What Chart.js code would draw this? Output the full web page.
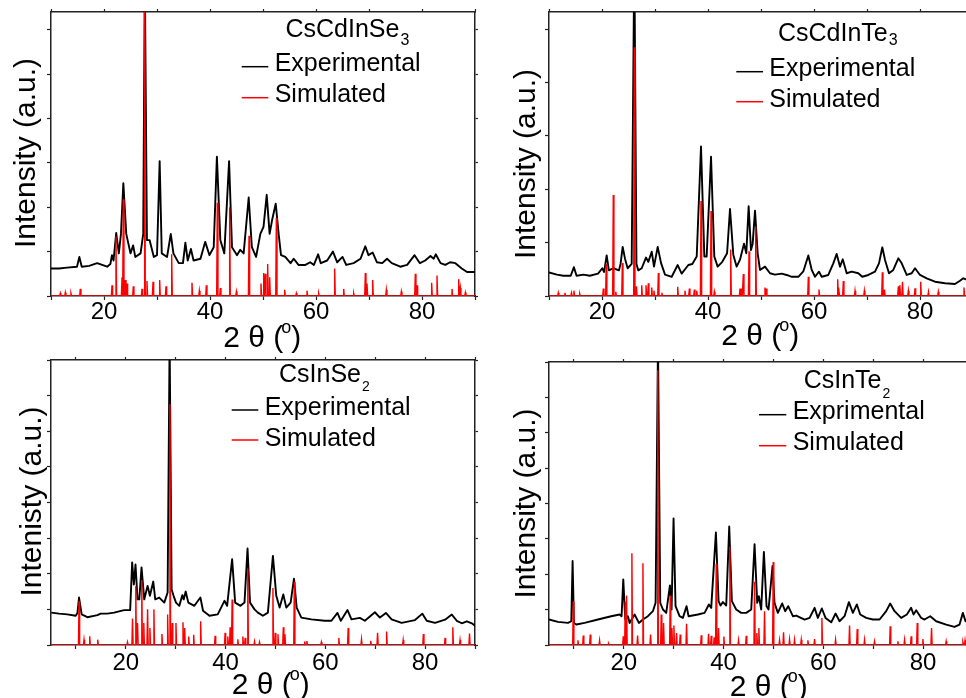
<!DOCTYPE html>
<html>
<head>
<meta charset="utf-8">
<title>XRD patterns</title>
<script src="https://cdn.jsdelivr.net/npm/chart.js@4/dist/chart.umd.min.js"></script>
<style>
  html, body { margin: 0; padding: 0; background: #fff; }
  body { width: 966px; height: 698px; position: relative; overflow: hidden; }
  canvas { position: absolute; display: block; }
</style>
</head>
<body>
<canvas id="p1" width="483" height="360" style="left:0;top:0;width:483px;height:360px"></canvas>
<canvas id="p2" width="498" height="360" style="left:483px;top:0;width:498px;height:360px"></canvas>
<canvas id="p3" width="483" height="349" style="left:0;top:349px;width:483px;height:349px"></canvas>
<canvas id="p4" width="498" height="349" style="left:483px;top:349px;width:498px;height:349px"></canvas>
<script>
// 2-theta tick positions (degrees) and intensity tick positions (a.u.)
const xTicks = [10, 20, 30, 40, 50, 60, 70, 80, 90];
const yTicks = [0, 0.5, 1, 1.5, 2, 2.5, 3, 3.5, 4];

// CsCdInSe3: measured pattern [2θ, intensity]
const cdInSe3Exp = [[10.0,0.31],[11.5,0.31],[13.0,0.32],[14.9,0.33],[15.35,0.44],[15.8,0.33],[17.2,0.34],[18.7,0.37],[20.6,0.33],[21.2,0.36],[21.5,0.46],[21.8,0.40],[22.3,0.71],[22.8,0.48],[23.2,0.70],[23.65,1.27],[24.2,0.70],[25.0,0.48],[25.5,0.57],[25.9,0.44],[26.9,0.48],[27.4,0.70],[27.7,3.6],[28.1,0.63],[28.6,0.63],[29.4,0.44],[30.0,0.46],[30.5,1.52],[30.9,0.48],[31.9,0.44],[32.6,0.70],[33.1,0.48],[34.1,0.37],[34.9,0.37],[35.35,0.60],[35.8,0.40],[36.4,0.53],[36.9,0.40],[38.2,0.42],[39.1,0.61],[39.9,0.46],[40.7,0.55],[41.3,1.57],[41.95,0.63],[42.7,0.48],[43.6,1.52],[44.15,0.55],[45.1,0.46],[45.7,0.52],[46.35,0.48],[47.3,1.11],[47.9,0.55],[48.7,0.44],[49.5,0.70],[50.1,0.78],[50.7,1.14],[51.25,0.70],[51.7,0.85],[52.4,1.04],[52.95,0.70],[53.4,0.46],[54.2,0.44],[55.2,0.37],[55.8,0.42],[56.7,0.35],[58.0,0.35],[58.9,0.38],[59.6,0.35],[60.4,0.47],[60.9,0.37],[62.1,0.40],[63.2,0.50],[64.0,0.38],[65.0,0.44],[65.7,0.35],[67.1,0.37],[68.4,0.42],[69.3,0.56],[69.9,0.46],[70.7,0.49],[71.5,0.38],[72.5,0.37],[73.4,0.42],[74.3,0.37],[75.9,0.33],[77.2,0.35],[78.6,0.46],[79.6,0.37],[80.6,0.40],[81.6,0.45],[82.2,0.42],[82.6,0.47],[83.5,0.37],[84.4,0.35],[85.3,0.38],[86.3,0.37],[87.5,0.31],[88.5,0.27],[89.7,0.27],[90.0,0.27]];
// CsCdInSe3: calculated reflections [2θ, intensity]
const cdInSe3Sim = [[11.76,0.03],[12.70,0.04],[13.77,0.03],[15.53,0.08],[21.51,0.12],[22.26,0.67],[23.40,0.21],[23.65,1.09],[24.03,0.18],[24.34,0.14],[25.53,0.11],[27.17,0.08],[27.67,3.5],[28.11,0.17],[29.25,0.16],[30.50,0.18],[31.70,0.11],[32.77,0.47],[36.60,0.15],[37.99,0.06],[39.31,0.12],[41.38,1.05],[41.95,0.09],[43.71,1.00],[44.97,0.05],[47.36,0.68],[49.62,0.14],[50.13,0.26],[50.44,0.25],[50.88,0.36],[51.26,0.21],[52.52,0.88],[54.09,0.07],[56.29,0.03],[58.30,0.06],[60.50,0.03],[63.52,0.31],[65.22,0.08],[67.11,0.03],[69.31,0.26],[69.62,0.14],[70.69,0.18],[73.27,0.07],[76.10,0.05],[78.74,0.25],[79.06,0.12],[81.82,0.15],[82.83,0.23],[85.66,0.08],[86.92,0.19],[87.23,0.09],[88.18,0.04]];

// CsCdInTe3
const cdInTe3Exp = [[10.0,0.22],[11.5,0.20],[12.7,0.19],[14.1,0.19],[14.7,0.27],[15.2,0.19],[16.5,0.20],[17.7,0.19],[19.25,0.21],[20.06,0.26],[20.4,0.225],[20.88,0.38],[21.3,0.24],[22.13,0.26],[23.2,0.24],[23.5,0.30],[23.9,0.46],[24.34,0.35],[24.84,0.26],[25.6,0.30],[26.1,3.2],[26.5,0.30],[26.85,0.24],[27.49,0.26],[28.3,0.36],[28.74,0.32],[29.38,0.415],[29.81,0.275],[30.51,0.46],[31.13,0.31],[31.89,0.20],[33.15,0.18],[34.28,0.29],[35.03,0.21],[36.29,0.29],[37.04,0.30],[37.87,0.37],[38.68,1.40],[39.31,0.37],[39.75,0.37],[40.57,1.305],[41.19,0.37],[41.82,0.275],[42.7,0.32],[43.6,0.40],[44.15,0.815],[44.78,0.385],[45.41,0.275],[46.04,0.34],[46.79,0.49],[47.23,0.40],[47.67,0.84],[48.11,0.43],[48.43,0.49],[48.87,0.80],[49.37,0.40],[49.81,0.244],[50.75,0.275],[51.7,0.213],[52.64,0.20],[53.9,0.21],[54.85,0.197],[55.8,0.18],[57.04,0.18],[57.98,0.23],[58.93,0.38],[59.57,0.244],[60.19,0.18],[60.94,0.228],[61.45,0.18],[62.7,0.197],[63.64,0.306],[64.28,0.394],[64.91,0.275],[65.42,0.344],[66.17,0.213],[67.11,0.228],[68.36,0.213],[69.11,0.18],[70.25,0.197],[71.51,0.228],[72.26,0.306],[72.89,0.456],[73.4,0.337],[74.15,0.213],[74.96,0.244],[75.91,0.353],[76.55,0.306],[77.49,0.197],[78.43,0.213],[79.06,0.26],[80.0,0.197],[81.26,0.166],[82.83,0.134],[84.72,0.119],[86.6,0.112],[87.55,0.143],[88.17,0.166],[88.68,0.156],[90.0,0.15]];
const cdInTe3Sim = [[11.75,0.03],[13.0,0.03],[14.25,0.03],[14.7,0.05],[15.8,0.02],[20.25,0.07],[20.8,0.30],[22.13,0.945],[22.6,0.04],[23.84,0.31],[26.1,2.33],[26.5,0.09],[27.49,0.10],[28.3,0.10],[28.74,0.12],[29.38,0.08],[29.8,0.05],[30.63,0.215],[31.3,0.03],[34.28,0.087],[35.66,0.05],[36.48,0.07],[37.42,0.06],[37.87,0.05],[38.68,0.89],[40.57,0.795],[41.19,0.04],[44.28,0.435],[46.04,0.07],[46.35,0.07],[46.67,0.205],[47.74,0.42],[49.0,0.65],[50.75,0.08],[51.0,0.07],[58.93,0.18],[60.94,0.06],[64.47,0.156],[64.7,0.08],[65.53,0.14],[67.74,0.05],[69.5,0.05],[72.89,0.222],[73.3,0.06],[75.91,0.09],[76.2,0.10],[76.7,0.134],[77.8,0.05],[79.06,0.072],[80.13,0.134],[81.6,0.04],[83.45,0.04],[88.3,0.08]];

// CsInSe2
const inSe2Exp = [[5.05,0.455],[6.6,0.44],[8.27,0.43],[9.95,0.41],[10.3,0.45],[10.62,0.666],[11.15,0.43],[12.29,0.39],[14.3,0.42],[14.97,0.44],[16.3,0.44],[17.65,0.455],[19.66,0.49],[20.87,0.49],[21.27,1.16],[21.61,0.85],[21.94,1.13],[22.35,0.64],[22.7,0.64],[23.15,1.09],[23.69,0.64],[24.36,0.83],[24.83,0.69],[25.5,0.89],[25.9,0.64],[26.7,0.666],[27.71,0.595],[28.38,0.736],[28.78,4.3],[29.18,0.78],[29.58,0.69],[30.05,0.595],[30.72,0.55],[31.33,0.70],[31.6,0.64],[32.0,0.75],[32.53,0.595],[33.74,0.55],[34.95,0.666],[35.48,0.48],[36.76,0.41],[38.43,0.43],[39.77,0.62],[40.31,0.55],[41.31,1.205],[41.92,0.595],[42.99,0.55],[43.79,0.595],[44.4,1.355],[44.9,0.595],[45.8,0.50],[46.47,0.455],[47.48,0.41],[48.48,0.455],[49.49,1.25],[50.16,0.69],[50.83,0.525],[51.57,0.71],[52.17,0.525],[53.04,0.595],[53.71,0.93],[54.25,0.525],[55.19,0.385],[57.2,0.36],[59.88,0.34],[61.22,0.34],[62.43,0.45],[63.1,0.34],[64.44,0.49],[65.24,0.36],[66.92,0.38],[67.92,0.34],[69.93,0.46],[70.94,0.385],[72.14,0.45],[73.28,0.36],[75.29,0.31],[77.97,0.35],[79.45,0.44],[80.32,0.34],[81.99,0.31],[84.0,0.356],[85.35,0.427],[86.35,0.34],[87.36,0.305],[88.36,0.333],[89.37,0.305],[90.0,0.27]];
const inSe2Sim = [[10.62,0.614],[11.62,0.075],[12.76,0.122],[14.37,0.075],[20.34,0.04],[21.34,0.37],[22.0,0.825],[22.35,0.31],[23.2,0.91],[23.6,0.31],[24.36,0.50],[24.83,0.24],[25.63,0.50],[27.24,0.155],[28.38,0.427],[28.85,3.38],[29.3,0.31],[30.05,0.31],[31.46,0.32],[31.8,0.24],[32.6,0.12],[33.6,0.145],[35.0,0.333],[37.9,0.13],[39.9,0.17],[40.44,0.12],[40.91,0.25],[41.31,0.64],[42.45,0.08],[43.46,0.12],[43.93,0.1],[44.45,1.07],[45.8,0.05],[46.8,0.04],[49.49,0.80],[49.96,0.17],[50.5,0.15],[51.57,0.25],[51.9,0.15],[53.78,0.886],[55.86,0.05],[56.3,0.056],[59.2,0.04],[62.7,0.1],[64.57,0.24],[67.25,0.08],[69.1,0.06],[70.47,0.17],[72.28,0.19],[75.6,0.07],[79.65,0.155],[84.0,0.1],[85.55,0.25],[87.0,0.07],[88.9,0.16]];

// CsInTe2
const inTe2Exp = [[5.0,0.36],[6.79,0.327],[8.8,0.312],[9.47,0.336],[9.73,1.188],[10.0,0.312],[10.47,0.289],[12.14,0.312],[14.81,0.36],[17.48,0.407],[19.15,0.431],[19.55,0.407],[19.89,0.928],[20.29,0.36],[20.82,0.407],[21.16,0.312],[22.16,0.431],[23.03,0.312],[23.83,0.36],[24.83,0.407],[25.83,0.478],[26.37,0.596],[26.85,4.3],[27.3,0.596],[27.84,0.502],[28.5,0.454],[29.24,0.842],[29.57,0.502],[29.97,1.789],[30.37,0.549],[31.18,0.407],[31.84,0.383],[32.58,0.549],[32.98,0.407],[34.85,0.431],[36.19,0.454],[37.05,0.573],[37.52,0.525],[38.46,1.59],[38.99,0.62],[39.39,0.558],[39.86,0.606],[40.53,0.558],[41.13,1.675],[41.66,0.62],[42.53,0.502],[43.53,0.454],[44.54,0.454],[45.54,0.502],[46.21,1.425],[46.74,0.596],[47.07,0.691],[47.54,0.502],[48.08,1.316],[48.61,0.549],[49.01,0.502],[49.81,1.117],[50.21,0.596],[50.88,0.454],[51.75,0.587],[52.35,0.478],[52.95,0.549],[53.89,0.407],[54.57,0.416],[56.24,0.36],[57.24,0.383],[58.24,0.525],[58.9,0.383],[59.7,0.516],[60.44,0.383],[61.58,0.32],[62.45,0.445],[63.25,0.336],[64.25,0.407],[65.12,0.606],[65.92,0.454],[66.72,0.573],[67.39,0.431],[68.59,0.383],[69.93,0.36],[71.27,0.36],[72.6,0.478],[73.4,0.587],[74.27,0.478],[75.6,0.383],[76.74,0.431],[77.6,0.525],[78.08,0.431],[78.61,0.49],[79.62,0.383],[80.28,0.36],[81.42,0.407],[82.62,0.336],[84.62,0.289],[86.3,0.255],[87.3,0.289],[87.97,0.454],[88.5,0.336],[90.0,0.32]];
const inTe2Sim = [[9.87,0.62],[10.8,0.066],[11.87,0.133],[13.27,0.147],[15.14,0.066],[16.95,0.02],[19.89,0.123],[20.29,0.606],[20.55,0.70],[21.62,1.297],[22.76,0.133],[23.83,1.155],[25.36,0.147],[26.8,3.885],[27.5,0.43],[27.97,0.31],[29.3,0.70],[29.64,0.24],[30.04,0.275],[30.57,0.17],[31.3,0.147],[32.58,0.30],[35.52,0.137],[36.99,0.16],[37.52,0.13],[38.12,0.11],[38.52,1.15],[38.99,0.24],[40.06,0.12],[41.26,1.39],[43.0,0.07],[44.54,0.13],[46.21,0.894],[46.67,0.17],[47.07,0.24],[48.21,0.478],[49.95,1.174],[51.22,0.07],[52.02,0.18],[53.22,0.08],[54.23,0.075],[55.57,0.075],[56.9,0.066],[58.24,0.085],[59.71,0.383],[62.45,0.075],[65.25,0.275],[66.79,0.227],[68.26,0.075],[70.26,0.052],[73.4,0.265],[74.94,0.052],[76.28,0.075],[77.6,0.123],[78.82,0.312],[79.95,0.085],[81.69,0.24],[84.62,0.052],[87.97,0.038],[88.4,0.066]];

const FONT = '"Liberation Sans", Arial, Helvetica, sans-serif';
const STICK_HALF = 0.12; // half width of a calculated reflection, degrees

const toXY = arr => arr.map(([x, y]) => ({ x, y }));

// Calculated reflections drawn as narrow sticks rising from zero
function sticks(peaks, xmin, xmax) {
  const pts = [{ x: xmin, y: 0 }];
  peaks.slice().sort((a, b) => a[0] - b[0]).forEach(([x, h]) => {
    pts.push({ x: x - STICK_HALF, y: 0 }, { x, y: h }, { x: x + STICK_HALF, y: 0 });
  });
  pts.push({ x: xmax, y: 0 });
  return pts;
}

// Axis titles and the in-plot legend
const panelText = {
  id: 'panelText',
  afterDraw(chart, args, o) {
    const ctx = chart.ctx;
    ctx.save();
    ctx.fillStyle = '#000';
    ctx.textBaseline = 'alphabetic';

    // vertical axis title
    ctx.save();
    ctx.translate(o.yTitle.x, o.yTitle.y);
    ctx.rotate(-Math.PI / 2);
    ctx.font = '30px ' + FONT;
    ctx.textAlign = 'center';
    ctx.fillText(o.yTitle.text, 0, 0);
    ctx.restore();

    // horizontal axis title: 2 θ (°)
    ctx.textAlign = 'left';
    ctx.font = '30px ' + FONT;
    let x = o.xTitle.x;
    const base = o.xTitle.y;
    ctx.fillText('2 θ (', x, base);
    x += ctx.measureText('2 θ (').width - 2;
    ctx.font = '18px ' + FONT;
    ctx.fillText('o', x, base - 14);
    x += ctx.measureText('o').width;
    ctx.font = '30px ' + FONT;
    ctx.fillText(')', x, base);

    // legend heading with subscript
    const lg = o.legend;
    ctx.font = '25px ' + FONT;
    ctx.fillText(lg.title, lg.titleX, lg.titleY);
    const tw = ctx.measureText(lg.title).width;
    ctx.font = lg.subSize + 'px ' + FONT;
    ctx.fillText(lg.sub, lg.titleX + tw + 1, lg.titleY + lg.subDy);

    // legend rows
    lg.rows.forEach(r => {
      ctx.strokeStyle = r.color;
      ctx.lineWidth = 1.5;
      ctx.beginPath();
      ctx.moveTo(lg.lineX1, r.lineY);
      ctx.lineTo(lg.lineX2, r.lineY);
      ctx.stroke();
      ctx.fillStyle = '#000';
      ctx.font = '25px ' + FONT;
      ctx.fillText(r.label, lg.textX, r.textY);
    });
    ctx.restore();
  }
};

function makePanel(id, p) {
  const xs = xTicks.filter(v => v >= p.xmin && v <= p.xmax);
  const ys = yTicks.filter(v => v <= p.ymax);
  const border = { display: true, color: '#222', width: 1.5 };
  const gridBase = { drawOnChartArea: false, drawTicks: true, tickColor: '#222', tickWidth: 1.2 };
  new Chart(document.getElementById(id), {
    type: 'line',
    data: {
      datasets: [
        { label: 'Simulated', data: sticks(p.sim, p.xmin, p.xmax), borderColor: '#ff0000', borderWidth: 1.4, pointRadius: 0, tension: 0 },
        { label: p.expLabel, data: toXY(p.exp), borderColor: '#000000', borderWidth: 1.9, borderJoinStyle: 'round', pointRadius: 0, tension: 0 }
      ]
    },
    options: {
      responsive: false,
      animation: false,
      events: [],
      layout: { padding: 0, autoPadding: false },
      plugins: { legend: { display: false }, tooltip: { enabled: false }, panelText: p.text },
      scales: {
        x: {
          type: 'linear', position: 'bottom', min: p.xmin, max: p.xmax,
          afterBuildTicks: a => { a.ticks = xs.map(v => ({ value: v })); },
          ticks: {
            autoSkip: false, maxRotation: 0, color: '#000', padding: p.tickPad,
            font: { family: FONT, size: 24, lineHeight: 1 },
            callback: v => (v % 20 === 0 ? String(v) : '')
          },
          grid: Object.assign({ tickLength: 4 }, gridBase),
          border,
          afterFit: s => { s.height = p.bottomH; }
        },
        x2: {
          type: 'linear', position: 'top', min: p.xmin, max: p.xmax,
          afterBuildTicks: a => { a.ticks = xs.map(v => ({ value: v })); },
          ticks: { display: false },
          grid: Object.assign({ tickLength: 3 }, gridBase),
          border,
          afterFit: s => { s.height = p.topH; }
        },
        y: {
          type: 'linear', position: 'left', min: 0, max: p.ymax,
          afterBuildTicks: a => { a.ticks = ys.map(v => ({ value: v })); },
          ticks: { display: false },
          grid: Object.assign({ tickLength: 4 }, gridBase),
          border,
          afterFit: s => { s.width = p.leftW; }
        },
        y2: {
          type: 'linear', position: 'right', min: 0, max: p.ymax,
          afterBuildTicks: a => { a.ticks = ys.map(v => ({ value: v })); },
          ticks: { display: false },
          grid: Object.assign({ tickLength: 3 }, gridBase),
          border,
          afterFit: s => { s.width = p.rightW; }
        }
      }
    },
    plugins: [panelText]
  });
}

const rowsFor = (expLabel, t1, t2, l1, l2) => [
  { label: expLabel, color: '#000000', textY: t1, lineY: l1 },
  { label: 'Simulated', color: '#ff0000', textY: t2, lineY: l2 }
];

makePanel('p1', {
  exp: cdInSe3Exp, sim: cdInSe3Sim, expLabel: 'Experimental',
  xmin: 10, xmax: 90, ymax: 3.2,
  leftW: 51, rightW: 8, topH: 12, bottomH: 64, tickPad: 0,
  text: {
    yTitle: { text: 'Intensity (a.u.)', x: 35, y: 153 },
    xTitle: { x: 223.3, y: 346.7 },
    legend: { title: 'CsCdInSe', sub: '3', subSize: 16, subDy: 8, titleX: 285.5, titleY: 37.3,
      lineX1: 241.7, lineX2: 268.3, textX: 274.7,
      rows: rowsFor('Experimental', 70.7, 101.7, 66.7, 97.7) }
  }
});

makePanel('p2', {
  exp: cdInTe3Exp, sim: cdInTe3Sim, expLabel: 'Experimental',
  xmin: 10, xmax: 90, ymax: 2.66,
  leftW: 66, rightW: 8, topH: 12, bottomH: 64, tickPad: 0,
  text: {
    yTitle: { text: 'Intensity (a.u.)', x: 52.3, y: 164 },
    xTitle: { x: 238.3, y: 345 },
    legend: { title: 'CsCdInTe', sub: '3', subSize: 16, subDy: 4, titleX: 295, titleY: 41,
      lineX1: 253.3, lineX2: 280, textX: 286.3,
      rows: rowsFor('Experimental', 76, 107.3, 71.7, 101.7) }
  }
});

makePanel('p3', {
  exp: inSe2Exp, sim: inSe2Sim, expLabel: 'Experimental',
  xmin: 5, xmax: 90, ymax: 4,
  leftW: 51, rightW: 8, topH: 11, bottomH: 53, tickPad: 2,
  text: {
    yTitle: { text: 'Intenisty (a.u.)', x: 40.7, y: 152.5 },
    xTitle: { x: 231.7, y: 344.8 },
    legend: { title: 'CsInSe', sub: '2', subSize: 14, subDy: 9, titleX: 279, titleY: 33.3,
      lineX1: 231.7, lineX2: 258.3, textX: 264.7,
      rows: rowsFor('Experimental', 65.7, 96.7, 61, 91) }
  }
});

makePanel('p4', {
  exp: inTe2Exp, sim: inTe2Sim, expLabel: 'Exprimental',
  xmin: 5, xmax: 90, ymax: 4,
  leftW: 66, rightW: 8, topH: 13, bottomH: 53, tickPad: 2,
  text: {
    yTitle: { text: 'Intensity (a.u.)', x: 52.3, y: 154.5 },
    xTitle: { x: 246.7, y: 346.5 },
    legend: { title: 'CsInTe', sub: '2', subSize: 14, subDy: 10, titleX: 320.7, titleY: 39.3,
      lineX1: 276, lineX2: 303.3, textX: 309.7,
      rows: rowsFor('Exprimental', 70, 101, 65.7, 96.7) }
  }
});
</script>
</body>
</html>
